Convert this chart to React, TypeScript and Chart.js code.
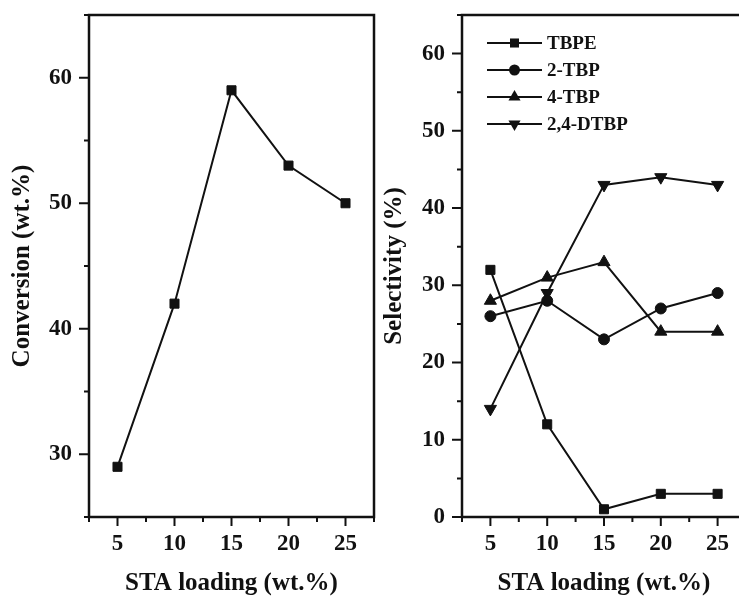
import React, { useEffect, useRef } from 'react';
import { Chart, registerables } from 'chart.js';

Chart.register(...registerables);

// ---- data ----
const loadings = [5, 10, 15, 20, 25];
const conversion = [29, 42, 59, 53, 50];
const tbpe = [32, 12, 1, 3, 3];
const tbp2 = [26, 28, 23, 27, 29];
const tbp4 = [28, 31, 33, 24, 24];
const dtbp = [14, 29, 43, 44, 43];
const seriesNames = ['TBPE', '2-TBP', '4-TBP', '2,4-DTBP'];
const leftYTickLabels = [30, 40, 50, 60];
const rightYTickLabels = [0, 10, 20, 30, 40, 50, 60];
const xTickLabels = [5, 10, 15, 20, 25];
const xTitle = 'STA loading (wt.%)';
const leftYTitle = 'Conversion (wt.%)';
const rightYTitle = 'Selectivity (%)';

const FONT = "'Liberation Serif', 'Times New Roman', serif";
const INK = '#111111';

const toPoints = (ys: number[]) => loadings.map((x, i) => ({ x, y: ys[i] }));

const framePlugin = {
  id: 'frameTicks',
  afterDraw(chart: any) {
    const { ctx, chartArea: a } = chart;
    const xs = chart.scales.x;
    const ys = chart.scales.y;
    ctx.save();
    ctx.strokeStyle = INK;
    ctx.lineWidth = 2.5;
    ctx.strokeRect(a.left, a.top, a.right - a.left, a.bottom - a.top);
    ctx.lineWidth = 2;
    ctx.beginPath();
    xs.ticks.forEach((t: any) => {
      const px = xs.getPixelForValue(t.value);
      const len = t.label !== '' ? 9 : 5;
      ctx.moveTo(px, a.bottom);
      ctx.lineTo(px, a.bottom + len);
    });
    ys.ticks.forEach((t: any) => {
      const py = ys.getPixelForValue(t.value);
      const len = t.label !== '' ? 10 : 5;
      ctx.moveTo(a.left - len, py);
      ctx.lineTo(a.left, py);
    });
    ctx.stroke();
    ctx.restore();
  },
};

function drawMarker(ctx: CanvasRenderingContext2D, style: string, x: number, y: number, r: number) {
  ctx.beginPath();
  if (style === 'rect') {
    const s = Math.SQRT1_2 * r;
    ctx.rect(x - s, y - s, 2 * s, 2 * s);
  } else if (style === 'circle') {
    ctx.arc(x, y, r, 0, Math.PI * 2);
  } else {
    const dir = style === 'triangleDown' ? -1 : 1;
    ctx.moveTo(x, y - dir * r);
    ctx.lineTo(x + 0.866 * r, y + dir * 0.5 * r);
    ctx.lineTo(x - 0.866 * r, y + dir * 0.5 * r);
    ctx.closePath();
  }
  ctx.fill();
}

const legendPlugin = {
  id: 'lineLegend',
  afterDraw(chart: any) {
    const ctx = chart.ctx as CanvasRenderingContext2D;
    const left = chart.chartArea.left + 25;
    const top = 43;
    const step = 27;
    ctx.save();
    chart.data.datasets.forEach((ds: any, i: number) => {
      const y = top + i * step;
      ctx.strokeStyle = INK;
      ctx.fillStyle = INK;
      ctx.lineWidth = 2;
      ctx.beginPath();
      ctx.moveTo(left, y);
      ctx.lineTo(left + 55, y);
      ctx.stroke();
      const style = ds.rotation === 180 ? 'triangleDown' : ds.pointStyle;
      drawMarker(ctx, style, left + 27.5, y, ds.pointRadius);
      ctx.font = `bold 19px ${FONT}`;
      ctx.textBaseline = 'middle';
      ctx.textAlign = 'left';
      ctx.fillText(ds.label, left + 60, y + 1);
    });
    ctx.restore();
  },
};

function baseOptions(opts: {
  yMin: number; yMax: number; yLabels: number[]; yTitle: string;
  yWidth: number; xHeight: number; pad: any; titlePad: number;
}) {
  return {
    responsive: false,
    animation: false as const,
    devicePixelRatio: 1,
    layout: { padding: opts.pad },
    plugins: { legend: { display: false }, tooltip: { enabled: false } },
    scales: {
      x: {
        type: 'linear' as const,
        min: 2.5,
        max: 27.5,
        grid: { display: true, drawOnChartArea: false, drawTicks: true, tickLength: 13, tickColor: 'rgba(0,0,0,0)' },
        border: { display: false },
        ticks: {
          stepSize: 2.5,
          autoSkip: false,
          maxRotation: 0,
          padding: 0,
          color: INK,
          font: { family: FONT, size: 23, weight: 'bold' as const },
          callback: (v: any) => (xTickLabels.includes(Number(v)) ? String(v) : ''),
        },
        title: {
          display: true,
          text: xTitle,
          color: INK,
          padding: { top: 0, bottom: 0 },
          font: { family: FONT, size: 25, weight: 'bold' as const, lineHeight: 1.05 },
        },
        afterFit: (s: any) => { s.height = opts.xHeight; },
      },
      y: {
        type: 'linear' as const,
        min: opts.yMin,
        max: opts.yMax,
        grid: { display: true, drawOnChartArea: false, drawTicks: true, tickLength: 17, tickColor: 'rgba(0,0,0,0)' },
        border: { display: false },
        ticks: {
          stepSize: 5,
          autoSkip: false,
          padding: 0,
          color: INK,
          font: { family: FONT, size: 23, weight: 'bold' as const },
          callback: (v: any) => (opts.yLabels.includes(Number(v)) ? String(v) : ''),
        },
        title: {
          display: true,
          text: opts.yTitle,
          color: INK,
          padding: { top: opts.titlePad, bottom: 0 },
          font: { family: FONT, size: 25, weight: 'bold' as const },
        },
        afterFit: (s: any) => { s.width = opts.yWidth; },
      },
    },
  };
}

const lineDs = (label: string, data: number[], pointStyle: string, radius: number, rotation = 0) => ({
  label,
  data: toPoints(data),
  borderColor: INK,
  backgroundColor: INK,
  borderWidth: 2,
  pointStyle,
  pointRadius: radius,
  pointRotation: rotation,
  rotation,
  pointBorderWidth: 1,
  pointBackgroundColor: INK,
  pointBorderColor: INK,
  tension: 0,
});

export default function App() {
  const leftRef = useRef<HTMLCanvasElement>(null);
  const rightRef = useRef<HTMLCanvasElement>(null);

  useEffect(() => {
    const left = new Chart(leftRef.current!, {
      type: 'line',
      data: { datasets: [lineDs('Conversion', conversion, 'rect', 6.4)] as any },
      options: baseOptions({
        yMin: 25, yMax: 65, yLabels: leftYTickLabels, yTitle: leftYTitle,
        yWidth: 89, xHeight: 80, pad: { left: 0, top: 15, right: 9, bottom: 0 }, titlePad: 8,
      }) as any,
      plugins: [framePlugin],
    });
    const right = new Chart(rightRef.current!, {
      type: 'line',
      data: {
        datasets: [
          lineDs(seriesNames[0], tbpe, 'rect', 6.4),
          lineDs(seriesNames[1], tbp2, 'circle', 5.5),
          lineDs(seriesNames[2], tbp4, 'triangle', 7),
          lineDs(seriesNames[3], dtbp, 'triangle', 7, 180),
        ] as any,
      },
      options: baseOptions({
        yMin: 0, yMax: 65, yLabels: rightYTickLabels, yTitle: rightYTitle,
        yWidth: 82, xHeight: 80, pad: { left: 0, top: 15, right: 9, bottom: 0 }, titlePad: 0,
      }) as any,
      plugins: [framePlugin, legendPlugin],
    });
    return () => { left.destroy(); right.destroy(); };
  }, []);

  return (
    <div style={{ position: 'absolute', left: 0, top: 0, width: 739, height: 597, overflow: 'hidden', background: '#fff' }}>
      <canvas ref={leftRef} width={383} height={597} style={{ position: 'absolute', left: 0, top: 0, width: 383, height: 597 }} />
      <canvas ref={rightRef} width={375} height={597} style={{ position: 'absolute', left: 380, top: 0, width: 375, height: 597 }} />
    </div>
  );
}
